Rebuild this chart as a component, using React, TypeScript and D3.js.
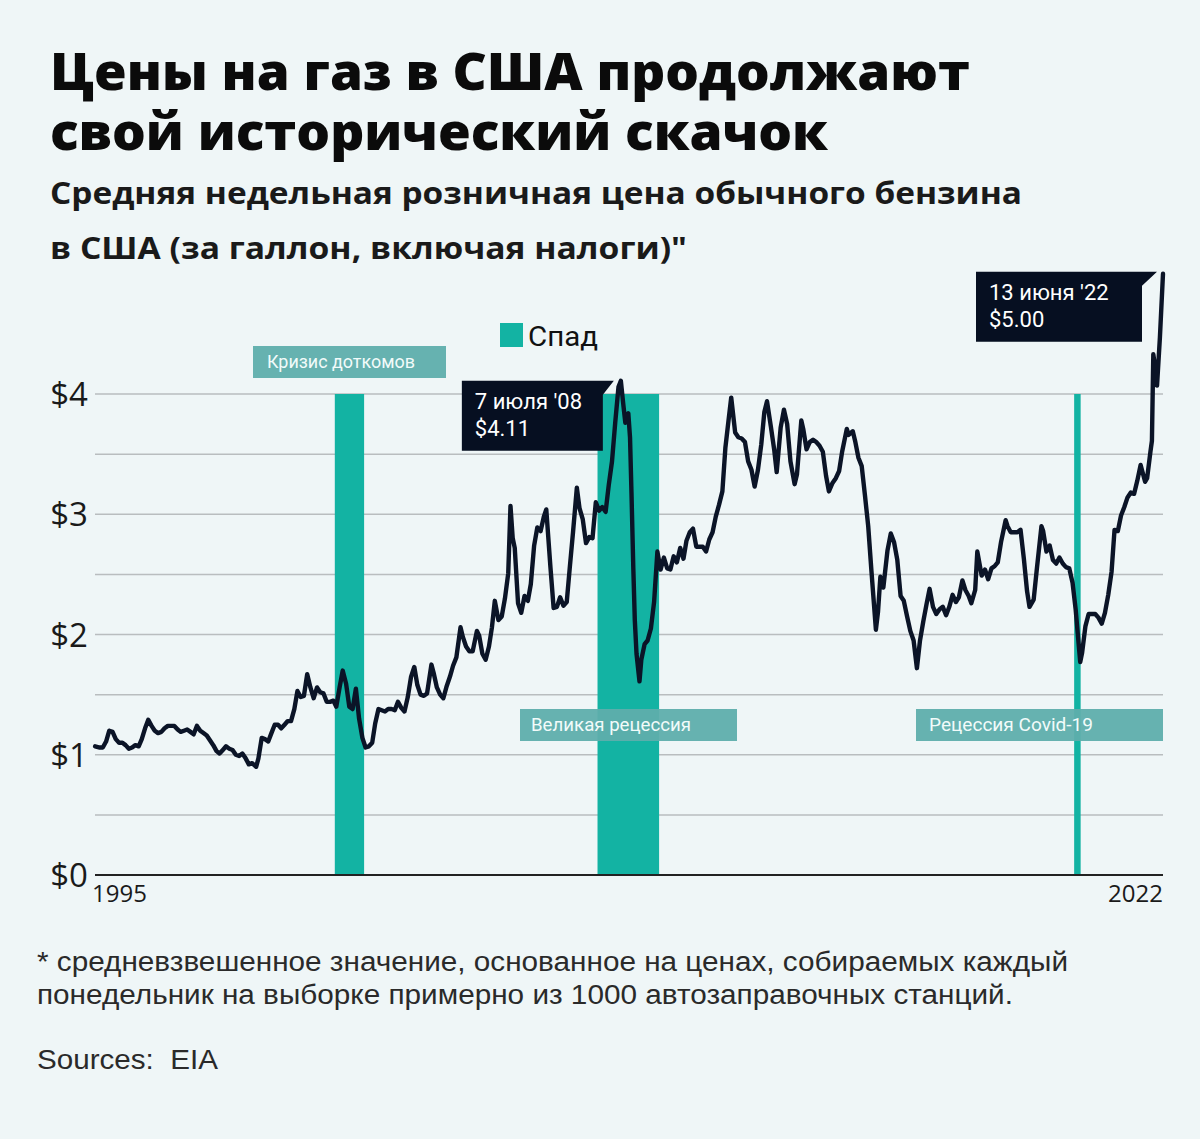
import React, { useEffect } from "react";
import * as d3 from "d3";

const W = 1200;
const H = 1139;

// Weekly/monthly average retail price of regular gasoline (USD / gallon)
const dates: string[] = [
  "1995-01-02","1995-02-15","1995-03-15","1995-04-15","1995-05-15","1995-06-15","1995-07-15","1995-08-15","1995-09-15","1995-10-15","1995-11-15","1995-12-15",
  "1996-01-15","1996-02-15","1996-03-15","1996-04-15","1996-05-15","1996-06-15","1996-07-15","1996-08-15","1996-09-15","1996-10-15","1996-11-15","1996-12-15",
  "1997-01-15","1997-02-15","1997-03-15","1997-04-15","1997-05-15","1997-06-15","1997-07-15","1997-08-15","1997-09-15","1997-10-15","1997-11-15","1997-12-15",
  "1998-01-15","1998-02-15","1998-03-15","1998-04-15","1998-05-15","1998-06-15","1998-07-15","1998-08-15","1998-09-15","1998-10-15","1998-11-15","1998-12-15",
  "1999-01-15","1999-02-22","1999-03-15","1999-04-15","1999-05-15","1999-06-15","1999-07-15","1999-08-15","1999-09-15","1999-10-15","1999-11-15","1999-12-15",
  "2000-01-15","2000-02-15","2000-03-15","2000-04-15","2000-05-15","2000-06-15","2000-07-15","2000-08-15","2000-09-15","2000-10-15","2000-11-15","2000-12-15",
  "2001-01-15","2001-02-15","2001-03-15","2001-04-15","2001-05-14","2001-06-15","2001-07-15","2001-08-15","2001-09-15","2001-10-15","2001-11-15","2001-12-15",
  "2002-01-15","2002-02-15","2002-03-15","2002-04-15","2002-05-15","2002-06-15","2002-07-15","2002-08-15","2002-09-15","2002-10-15","2002-11-15","2002-12-15",
  "2003-01-15","2003-02-15","2003-03-17","2003-04-15","2003-05-15","2003-06-15","2003-07-15","2003-08-25","2003-09-15","2003-10-15","2003-11-15","2003-12-15",
  "2004-01-15","2004-02-15","2004-03-15","2004-04-15","2004-05-24","2004-06-15","2004-07-15","2004-08-15","2004-09-15","2004-10-25","2004-11-15","2004-12-15",
  "2005-01-15","2005-02-15","2005-03-15","2005-04-11","2005-05-15","2005-06-15","2005-07-15","2005-08-15","2005-09-05","2005-09-26","2005-10-15","2005-11-15","2005-12-15",
  "2006-01-15","2006-02-15","2006-03-15","2006-04-15","2006-05-15","2006-06-15","2006-07-15","2006-08-07","2006-09-15","2006-10-15","2006-11-15","2006-12-15",
  "2007-01-15","2007-02-15","2007-03-15","2007-04-15","2007-05-21","2007-06-15","2007-07-15","2007-08-15","2007-09-15","2007-10-15","2007-11-15","2007-12-15",
  "2008-01-15","2008-02-15","2008-03-15","2008-04-15","2008-05-15","2008-06-15","2008-07-07","2008-07-28","2008-08-18","2008-09-15","2008-10-01","2008-10-15","2008-11-01","2008-11-15","2008-12-01","2008-12-29",
  "2009-01-15","2009-02-15","2009-03-15","2009-04-15","2009-05-15","2009-06-15","2009-07-15","2009-08-15","2009-09-15","2009-10-15","2009-11-15","2009-12-15",
  "2010-01-15","2010-02-15","2010-03-15","2010-04-15","2010-05-15","2010-06-15","2010-07-15","2010-08-15","2010-09-15","2010-10-15","2010-11-15","2010-12-15",
  "2011-01-15","2011-02-15","2011-03-15","2011-04-15","2011-05-09","2011-06-15","2011-07-15","2011-08-15","2011-09-15","2011-10-15","2011-11-15","2011-12-15",
  "2012-01-15","2012-02-15","2012-03-15","2012-04-09","2012-05-15","2012-06-15","2012-07-09","2012-08-15","2012-09-15","2012-10-15","2012-11-15","2012-12-24",
  "2013-01-15","2013-02-25","2013-03-15","2013-04-15","2013-05-15","2013-06-15","2013-07-15","2013-08-15","2013-09-15","2013-10-15","2013-11-11","2013-12-15",
  "2014-01-15","2014-02-15","2014-03-15","2014-04-28","2014-05-15","2014-06-23","2014-07-15","2014-08-15","2014-09-15","2014-10-15","2014-11-15","2014-12-15",
  "2015-01-26","2015-02-15","2015-03-09","2015-04-06","2015-05-15","2015-06-15","2015-07-15","2015-08-15","2015-09-15","2015-10-15","2015-11-15","2015-12-15",
  "2016-01-15","2016-02-15","2016-03-15","2016-04-15","2016-05-15","2016-06-13","2016-07-15","2016-08-15","2016-09-15","2016-10-15","2016-11-15","2016-12-15",
  "2017-01-15","2017-02-15","2017-03-15","2017-04-17","2017-05-15","2017-06-15","2017-07-10","2017-08-15","2017-09-04","2017-10-15","2017-11-15","2017-12-15",
  "2018-01-15","2018-02-15","2018-03-15","2018-04-15","2018-05-28","2018-06-15","2018-07-15","2018-08-15","2018-09-15","2018-10-15","2018-11-15","2018-12-15",
  "2019-01-07","2019-02-15","2019-03-15","2019-04-29","2019-05-15","2019-06-15","2019-07-15","2019-08-15","2019-09-15","2019-10-15","2019-11-15","2019-12-15",
  "2020-01-15","2020-02-15","2020-03-15","2020-04-27","2020-05-15","2020-06-15","2020-07-15","2020-08-15","2020-09-15","2020-10-15","2020-11-15","2020-12-15",
  "2021-01-15","2021-02-15","2021-03-15","2021-04-15","2021-05-15","2021-06-15","2021-07-15","2021-08-15","2021-09-15","2021-10-15","2021-11-15","2021-12-27",
  "2022-01-15","2022-02-15","2022-03-01","2022-03-14","2022-04-01","2022-04-18","2022-05-15","2022-06-13"
];

const prices: number[] = [
  1.07,1.06,1.06,1.11,1.20,1.19,1.13,1.10,1.10,1.08,1.05,1.06,
  1.08,1.07,1.13,1.22,1.29,1.24,1.20,1.18,1.19,1.22,1.24,1.24,
  1.24,1.21,1.19,1.20,1.21,1.19,1.17,1.24,1.20,1.18,1.16,1.12,
  1.08,1.03,1.01,1.04,1.07,1.05,1.04,1.00,0.99,1.01,0.97,0.92,
  0.93,0.90,0.97,1.14,1.13,1.11,1.18,1.25,1.25,1.22,1.25,1.28,
  1.28,1.38,1.53,1.48,1.49,1.67,1.56,1.47,1.56,1.52,1.51,1.44,
  1.44,1.45,1.40,1.56,1.70,1.59,1.40,1.38,1.55,1.30,1.14,1.06,
  1.07,1.10,1.26,1.38,1.37,1.36,1.38,1.38,1.37,1.44,1.39,1.36,
  1.48,1.65,1.73,1.58,1.50,1.49,1.51,1.75,1.68,1.56,1.50,1.47,
  1.57,1.65,1.74,1.81,2.06,1.98,1.90,1.86,1.86,2.03,1.99,1.84,
  1.79,1.90,2.06,2.28,2.12,2.15,2.30,2.51,3.07,2.80,2.72,2.26,2.18,
  2.32,2.28,2.42,2.74,2.89,2.86,2.98,3.04,2.56,2.22,2.23,2.31,
  2.24,2.27,2.55,2.85,3.22,3.05,2.96,2.76,2.81,2.80,3.10,3.03,
  3.06,3.02,3.24,3.44,3.76,4.06,4.11,3.93,3.76,3.84,3.64,3.17,2.55,2.12,1.84,1.61,
  1.79,1.92,1.95,2.05,2.27,2.69,2.54,2.64,2.55,2.54,2.65,2.60,
  2.72,2.63,2.78,2.85,2.88,2.73,2.73,2.73,2.69,2.79,2.85,2.98,
  3.08,3.19,3.55,3.79,3.97,3.68,3.64,3.63,3.60,3.44,3.37,3.23,
  3.37,3.58,3.85,3.94,3.73,3.54,3.35,3.72,3.87,3.75,3.44,3.25,
  3.33,3.78,3.71,3.54,3.60,3.62,3.60,3.57,3.52,3.32,3.19,3.26,
  3.30,3.36,3.52,3.71,3.66,3.69,3.61,3.47,3.40,3.16,2.90,2.53,
  2.04,2.19,2.48,2.39,2.70,2.84,2.77,2.62,2.32,2.28,2.15,2.03,
  1.95,1.72,1.95,2.11,2.25,2.38,2.23,2.17,2.21,2.23,2.16,2.23,
  2.33,2.27,2.31,2.45,2.37,2.32,2.26,2.37,2.69,2.49,2.54,2.46,
  2.55,2.57,2.60,2.77,2.95,2.90,2.85,2.85,2.85,2.87,2.63,2.36,
  2.23,2.29,2.53,2.90,2.86,2.69,2.74,2.62,2.59,2.64,2.59,2.56,
  2.55,2.43,2.21,1.77,1.85,2.07,2.17,2.17,2.17,2.14,2.09,2.18,
  2.33,2.52,2.87,2.86,2.99,3.06,3.14,3.18,3.17,3.28,3.41,3.27,
  3.30,3.52,3.61,4.33,4.22,4.07,4.47,5.00
];

const yTicks: number[] = [0, 1, 2, 3, 4];
const gridValues: number[] = [0.5, 1, 1.5, 2, 2.5, 3, 3.5, 4];
const xLabels: string[] = ["1995", "2022"];

const recessionNames: string[] = ["Кризис доткомов", "Великая рецессия", "Рецессия Covid-19"];
const recessionStarts: string[] = ["2001-03-01", "2007-12-01", "2020-03-01"];
const recessionEnds: string[] = ["2001-12-01", "2009-07-01", "2020-05-01"];

const calloutDates: string[] = ["2008-07-07", "2022-06-13"];
const calloutLines1: string[] = ["7 июля '08", "13 июня '22"];
const calloutLines2: string[] = ["$4.11", "$5.00"];

const titleLines: string[] = ["Цены на газ в США продолжают", "свой исторический скачок"];
const subtitleLines: string[] = [
  "Средняя недельная розничная цена обычного бензина",
  "в США (за галлон, включая налоги)\"",
];
const footLines: string[] = [
  "* средневзвешенное значение, основанное на ценах, собираемых каждый",
  "понедельник на выборке примерно из 1000 автозаправочных станций.",
];
const sourceText = "Sources:\u00a0\u00a0EIA";
const legendText = "Спад";

const BG = "#eff6f7";
const TEAL = "#13b3a3";
const LABEL_BOX = "#5eaeac";
const DARK = "#060f21";
const LINE = "#0b1427";

export default function App() {
  useEffect(() => {
    document.body.style.margin = "0";
    document.body.style.background = BG;
  }, []);

  const parse = (s: string) => new Date(s + "T00:00:00Z");
  const data = dates.map((d, i) => ({ date: parse(d), v: prices[i] }));

  const x = d3
    .scaleUtc()
    .domain([parse("1995-01-01"), parse("2022-06-13")])
    .range([95, 1163]);
  const y = d3.scaleLinear().domain([0, 4]).range([875, 394]);

  const line = d3
    .line<{ date: Date; v: number }>()
    .x((d) => x(d.date))
    .y((d) => y(d.v))
    .curve(d3.curveLinear);

  const x0 = x.range()[0];
  const x1 = x.range()[1];

  const recLabelBoxes = [
    { x: 253, y: 346, w: 193, h: 32, tx: 267, tl: 148 },
    { x: 520, y: 709, w: 217, h: 32, tx: 531, tl: 160 },
    { x: 916, y: 709, w: 247, h: 32, tx: 929, tl: 164 },
  ];

  const p08 = { x: x(parse(calloutDates[0])), y: y(4.11) };
  const p22 = { x: x(parse(calloutDates[1])), y: y(5.0) };
  const callouts = [
    { left: p08.x - 159, right: p08.x - 18, top: p08.y, bottom: p08.y + 70, tip: p08.x - 7, t1: calloutLines1[0], t2: calloutLines2[0] },
    { left: p22.x - 187, right: p22.x - 21, top: p22.y - 2, bottom: p22.y + 68, tip: p22.x - 6, t1: calloutLines1[1], t2: calloutLines2[1] },
  ];

  return (
    <svg
      width={W}
      height={H}
      viewBox={`0 0 ${W} ${H}`}
      style={{ position: "absolute", left: 0, top: 0, background: BG, display: "block" }}
    >
      <rect x={0} y={0} width={W} height={H} fill={BG} />

      {/* Title */}
      <g fontFamily="'Open Sans', 'Noto Sans', sans-serif" fontWeight={800} fill="#0b0b0b">
        <text x={50} y={90} fontSize={52} textLength={920} lengthAdjust="spacingAndGlyphs">
          {titleLines[0]}
        </text>
        <text x={50} y={150} fontSize={52} textLength={778} lengthAdjust="spacingAndGlyphs">
          {titleLines[1]}
        </text>
      </g>
      <g fontFamily="'Open Sans', 'Noto Sans', sans-serif" fontWeight={700} fill="#1a1a1a">
        <text x={50} y={204} fontSize={31} textLength={972} lengthAdjust="spacingAndGlyphs">
          {subtitleLines[0]}
        </text>
        <text x={50} y={259} fontSize={31} textLength={637} lengthAdjust="spacingAndGlyphs">
          {subtitleLines[1]}
        </text>
      </g>

      {/* Gridlines */}
      {gridValues.map((g) => (
        <line key={g} x1={x0} x2={x1} y1={y(g)} y2={y(g)} stroke="#b9bdbf" strokeWidth={1.5} />
      ))}

      {/* Recession bars */}
      {recessionStarts.map((s, i) => (
        <rect
          key={s}
          x={x(parse(s))}
          y={y(4)}
          width={x(parse(recessionEnds[i])) - x(parse(s))}
          height={y(0) - y(4)}
          fill={TEAL}
        />
      ))}

      {/* baseline */}
      <line x1={x0} x2={x1} y1={y(0)} y2={y(0)} stroke="#222" strokeWidth={2} />

      {/* Recession labels */}
      {recLabelBoxes.map((b, i) => (
        <g key={i}>
          <rect x={b.x} y={b.y} width={b.w} height={b.h} fill={LABEL_BOX} opacity={0.95} />
          <text
            x={b.tx}
            y={b.y + 22}
            fontSize={18}
            fill="#f2fbfa"
            fontFamily="Roboto, 'Noto Sans', sans-serif"
            textLength={b.tl}
            lengthAdjust="spacingAndGlyphs"
          >
            {recessionNames[i]}
          </text>
        </g>
      ))}

      {/* Legend */}
      <rect x={500} y={323} width={23} height={24} fill={TEAL} />
      <text x={528} y={346} fontSize={28} fill="#111" fontFamily="Roboto, 'Noto Sans', sans-serif" textLength={70} lengthAdjust="spacingAndGlyphs">
        {legendText}
      </text>

      {/* Price line */}
      <path d={line(data) || ""} fill="none" stroke={LINE} strokeWidth={4.4} strokeLinejoin="round" strokeLinecap="round" />

      {/* Callouts */}
      {callouts.map((c, i) => (
        <g key={i}>
          <path
            d={`M${c.left},${c.top} L${c.tip},${c.top} L${c.right},${c.top + 14} L${c.right},${c.bottom} L${c.left},${c.bottom} Z`}
            fill={DARK}
          />
          <text x={c.left + 13} y={c.top + 28} fontSize={22} fill="#fff" fontFamily="Roboto, 'Noto Sans', sans-serif">
            {c.t1}
          </text>
          <text x={c.left + 13} y={c.top + 55} fontSize={22} fill="#fff" fontFamily="Roboto, 'Noto Sans', sans-serif">
            {c.t2}
          </text>
        </g>
      ))}

      {/* Y-axis labels */}
      {yTicks.map((t) => (
        <text
          key={t}
          x={88}
          y={y(t) + 12}
          fontSize={33}
          textAnchor="end"
          fill="#1a1a1a"
          fontFamily="'Open Sans', 'Noto Sans', sans-serif"
        >
          {`$${t}`}
        </text>
      ))}

      {/* X-axis labels */}
      <text x={x0 - 3} y={902} fontSize={24} fill="#1a1a1a" fontFamily="'Open Sans', 'Noto Sans', sans-serif">
        {xLabels[0]}
      </text>
      <text x={x1} y={902} fontSize={24} textAnchor="end" fill="#1a1a1a" fontFamily="'Open Sans', 'Noto Sans', sans-serif">
        {xLabels[1]}
      </text>

      {/* Footnotes */}
      <g fontFamily="'Liberation Sans', Arial, sans-serif" fill="#2a2a2a" fontSize={27}>
        <text x={37} y={971} textLength={1031} lengthAdjust="spacingAndGlyphs">
          {footLines[0]}
        </text>
        <text x={37} y={1004} textLength={976} lengthAdjust="spacingAndGlyphs">
          {footLines[1]}
        </text>
        <text x={37} y={1069} textLength={181} lengthAdjust="spacingAndGlyphs">
          {sourceText}
        </text>
      </g>
    </svg>
  );
}
